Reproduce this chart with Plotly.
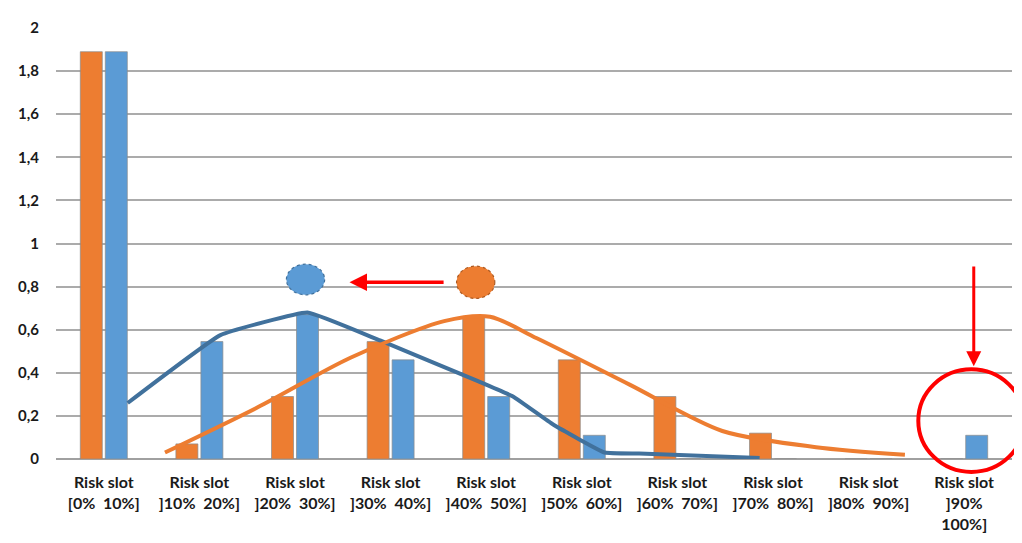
import plotly.graph_objects as go

categories = ["Risk slot<br>[0%  10%]", "Risk slot<br>]10%  20%]", "Risk slot<br>]20%  30%]",
              "Risk slot<br>]30%  40%]", "Risk slot<br>]40%  50%]", "Risk slot<br>]50%  60%]",
              "Risk slot<br>]60%  70%]", "Risk slot<br>]70%  80%]", "Risk slot<br>]80%  90%]",
              "Risk slot<br>]90%<br>100%]"]
orange_values = [1.89, 0.07, 0.29, 0.545, 0.66, 0.46, 0.29, 0.12, 0.0, 0.0]
blue_values = [1.89, 0.545, 0.67, 0.46, 0.29, 0.11, 0.0, 0.0, 0.0, 0.11]

blue_curve_x = [0.25, 1.22, 2.13, 2.89, 3.92, 4.28, 4.70, 5.24, 5.60, 6.86]
blue_curve_y = [0.26, 0.575, 0.68, 0.55, 0.36, 0.29, 0.16, 0.03, 0.025, 0.005]
orange_curve_x = [0.64, 1.61, 2.58, 3.56, 4.04, 4.53, 5.50, 6.47, 7.45, 8.38]
orange_curve_y = [0.03, 0.24, 0.47, 0.64, 0.66, 0.56, 0.345, 0.13, 0.055, 0.02]

yticks = [0, 0.2, 0.4, 0.6, 0.8, 1, 1.2, 1.4, 1.6, 1.8, 2]

ORANGE = "#ED7D31"
BLUE = "#5B9BD5"
DARKBLUE = "#41719C"
RED = "#FF0000"

xpos = list(range(len(categories)))

fig = go.Figure()
fig.add_trace(go.Bar(x=xpos, y=orange_values, marker=dict(color=ORANGE, line=dict(color="rgba(140,140,140,0.7)", width=1)), name="orange"))
fig.add_trace(go.Bar(x=xpos, y=blue_values, marker=dict(color=BLUE, line=dict(color="rgba(140,140,140,0.7)", width=1)), name="blue"))
fig.add_trace(go.Scatter(x=blue_curve_x, y=blue_curve_y, mode="lines",
                         line=dict(color=DARKBLUE, width=4, shape="spline", smoothing=0.3)))
fig.add_trace(go.Scatter(x=orange_curve_x, y=orange_curve_y, mode="lines",
                         line=dict(color=ORANGE, width=4, shape="spline", smoothing=0.8)))

# decorations
fig.add_shape(type="circle", xref="x", yref="y", x0=1.91, x1=2.31, y0=0.762, y1=0.904,
              fillcolor=BLUE, line=dict(color=DARKBLUE, width=1.2, dash="dot"))
fig.add_shape(type="circle", xref="x", yref="y", x0=3.69, x1=4.09, y0=0.745, y1=0.895,
              fillcolor=ORANGE, line=dict(color="#AE5A21", width=1.2, dash="dot"))
fig.add_annotation(x=2.57, y=0.82, ax=3.57, ay=0.82, xref="x", yref="y", axref="x", ayref="y",
                   text="", showarrow=True, arrowhead=2, arrowsize=1, arrowwidth=3.5, arrowcolor=RED)
fig.add_annotation(x=9.10, y=0.43, ax=9.10, ay=0.90, xref="x", yref="y", axref="x", ayref="y",
                   text="", showarrow=True, arrowhead=2, arrowsize=1, arrowwidth=3, arrowcolor=RED)
fig.add_shape(type="circle", xref="paper", yref="paper", x0=0.902, x1=1.013, y0=-0.030, y1=0.208,
              line=dict(color=RED, width=4))

fig.update_layout(
    width=1014, height=535,
    margin=dict(l=48, r=10, t=14, b=84),
    paper_bgcolor="white", plot_bgcolor="white",
    showlegend=False,
    barmode="group", bargap=0.477, bargroupgap=0.12,
    separators=", ",
    font=dict(family="Lato", color="#1a1a1a"),
)
fig.update_xaxes(range=[-0.5, 9.5], tickmode="array", tickvals=xpos, ticktext=categories,
                 tickfont=dict(size=16, family="Lato", weight="bold", color="#1a1a1a"),
                 showgrid=False, zeroline=False, showline=False, ticks="",
                 ticklabelstandoff=12)
fig.update_yaxes(range=[0, 2], tickmode="array", tickvals=yticks,
                 tickfont=dict(size=15, family="Lato", weight="bold", color="#1a1a1a"),
                 showgrid=True, gridcolor="#ABABAB", gridwidth=1.5,
                 zeroline=True, zerolinecolor="#A0A0A0", zerolinewidth=2,
                 ticks="", ticklabelstandoff=16, showline=False)

fig.write_html("out.html")
